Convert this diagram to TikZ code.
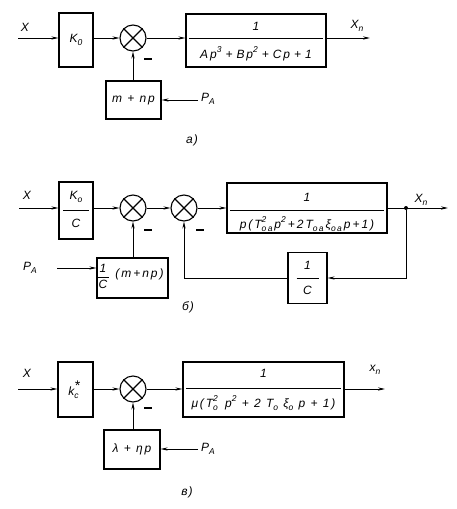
\documentclass[tikz,border=0pt]{standalone}
\usepackage{fontspec}
\setmainfont{Liberation Sans}[LetterSpace=10]
\newfontfamily\widefont[LetterSpace=16]{Liberation Sans}
\usetikzlibrary{arrows.meta,calc}
\newcommand{\smallidx}{\fontsize{8.5}{9}\selectfont}
\newcommand{\lsub}[1]{\raisebox{-0.4ex}{\smallidx #1}}
\newcommand{\lsup}[1]{\raisebox{0.9ex}{\smallidx #1}}
\newcommand{\lsupsub}[2]{\rlap{\raisebox{0.9ex}{\smallidx #1}}\raisebox{-0.4ex}{\smallidx #2}}
\begin{document}
\begin{tikzpicture}[x=1pt,y=-1pt, font=\itshape\fontsize{12}{14}\selectfont,
 blk/.style={draw, line width=1.2pt, inner sep=0},
 sum/.style={draw, circle, minimum size=26pt, inner sep=0, line width=1.1pt},
 arr/.style={-{Stealth[length=7pt,width=3.2pt]}, line width=0.8pt},
 ln/.style={line width=0.8pt},
 lbl/.style={inner sep=0},
 frm/.style={inner sep=0, font=\widefont\itshape\fontsize{12}{14}\selectfont},
 minus/.style={inner sep=0, font=\normalfont},
 dot/.style={circle, fill, inner sep=0, minimum size=4pt}]
\useasboundingbox (0,0) rectangle (456,509);

% ---------------- a) ----------------
\coordinate (xa) at (18,38);
\node[lbl] (xla) at (25,27) {X};
\node[blk, minimum width=34pt, minimum height=54pt] (ka) at (76,40) {K\lsub{0}};
\node[sum] (sa) at (133,38) {};
\draw[line width=1.1pt] (sa.45) -- (sa.225) (sa.135) -- (sa.315);
\node[blk, minimum width=140pt, minimum height=53pt] (ba) at (256,40.5) {};
\node[lbl] (ban) at (256,26) {1};
\draw[ln] ($(ba.west)+(4,-2)$) -- ($(ba.east)+(-4,-2)$);
\node[frm] (bad) at (256,54) {Ap\lsup{3}\,\,+\,\,Bp\lsup{2}\,\,+\,\,Cp\,\,+\,\,1};
\coordinate (ya) at (370,38);
\node[lbl] (yla) at (357,26) {X\lsub{n}};
\draw[arr] (xa) -- (xa -| ka.west);
\draw[arr] (ka.east |- sa) -- (sa.west);
\draw[arr] (sa.east) -- (sa.east -| ba.west);
\draw[arr] (sa.east -| ba.east) -- (ya);
\node[blk, minimum width=55pt, minimum height=38pt, font=\widefont\itshape\fontsize{12}{14}\selectfont] (ma) at (133.5,100) {m + np};
\draw[arr] (ma.north -| sa) -- (sa.south);
\coordinate (pea) at (198,100);
\node[lbl, anchor=west] (pa) at (201,99) {P\lsub{A}};
\draw[arr] (pea) -- (pea -| ma.east);
\node[minus] (mia) at (148,59) {\rule{8pt}{1.2pt}};
\node[lbl] (ca) at (192,140) {а)};

% ---------------- b) ----------------
\coordinate (xb) at (19,208);
\node[lbl] (xlb) at (27,195) {X};
\node[blk, minimum width=34pt, minimum height=57pt] (kb) at (76,210.5) {};
\node[lbl] (kbn) at (76,197) {K\lsub{o}};
\draw[ln] (kb.center) ++(-13,0) -- ++(26,0);
\node[lbl] (kbd) at (76,223) {C};
\node[sum] (sb1) at (133,208) {};
\draw[line width=1.1pt] (sb1.45) -- (sb1.225) (sb1.135) -- (sb1.315);
\node[sum] (sb2) at (184,208) {};
\draw[line width=1.1pt] (sb2.45) -- (sb2.225) (sb2.135) -- (sb2.315);
\node[blk, minimum width=160pt, minimum height=50pt] (bb) at (307,208) {};
\node[lbl] (bbn) at (307,197) {1};
\draw[ln] ($(bb.west)+(4,2)$) -- ($(bb.east)+(-4,2)$);
\node[frm] (bbd) at (307,224) {p(T\lsupsub{2}{oa}\,p\lsup{2}\,+\,2\,T\lsub{oa}\,ξ\lsub{oa}\,p\,+\,1)};
\node[dot] (db) at (406,208) {};
\coordinate (yb) at (448,208);
\node[lbl] (ylb) at (421,200) {X\lsub{n}};
\draw[arr] (xb) -- (xb -| kb.west);
\draw[arr] (kb.east |- sb1) -- (sb1.west);
\draw[arr] (sb1.east) -- (sb2.west);
\draw[arr] (sb2.east) -- (sb2.east -| bb.west);
\draw[arr] (sb2.east -| bb.east) -- (yb);
\node[blk, minimum width=39pt, minimum height=51pt] (cb) at (307.5,278) {};
\node[lbl] (cbn) at (307.5,265) {1};
\draw[ln] (cb.center) ++(-11,0) -- ++(22,0);
\node[lbl] (cbd) at (307.5,290) {C};
\draw[arr] (db) |- (cb.east);
\draw[arr] (cb.west) -| (sb2.south);
\node[blk, minimum width=71pt, minimum height=40pt] (mb) at (132.5,278) {};
\node[lbl] (mbn) at (103,268) {1};
\draw[ln] (98,277) -- (109,277);
\node[lbl] (mbd) at (103,284) {C};
\node[frm] (mbt) at (139.5,274) {(m\,+\,np)};
\draw[arr] (mb.north -| sb1) -- (sb1.south);
\coordinate (peb) at (57,268);
\node[lbl] (pb) at (30,268) {P\lsub{A}};
\draw[arr] (peb) -- (peb -| mb.west);
\node[minus] (mib1) at (148,230) {\rule{8pt}{1.2pt}};
\node[minus] (mib2) at (200,230) {\rule{8pt}{1.2pt}};
\node[lbl] (cbc) at (188,307) {б)};

% ---------------- c) ----------------
\coordinate (xc) at (18,389);
\node[lbl] (xlc) at (27,373) {X};
\node[blk, minimum width=35pt, minimum height=55pt] (kc) at (75.5,389.5) {k\lsupsub{\fontsize{14}{14}\selectfont *}{c}\,\,};
\node[sum] (sc) at (133,389) {};
\draw[line width=1.1pt] (sc.45) -- (sc.225) (sc.135) -- (sc.315);
\node[blk, minimum width=161pt, minimum height=55pt] (bc) at (263.5,389.5) {};
\node[lbl] (bcn) at (263.5,373) {1};
\draw[ln] ($(bc.west)+(4,-1)$) -- ($(bc.east)+(-4,-1)$);
\node[frm] (bcd) at (263.5,403) {μ(T\lsupsub{2}{o}\ \,p\lsup{2}\ +\ 2\ T\lsub{o}\ ξ\lsub{o}\ p\ +\ 1)};
\coordinate (yc) at (385,389);
\node[lbl] (ylc) at (375,370) {x\lsub{n}};
\draw[arr] (xc) -- (xc -| kc.west);
\draw[arr] (kc.east |- sc) -- (sc.west);
\draw[arr] (sc.east) -- (sc.east -| bc.west);
\draw[arr] (sc.east -| bc.east) -- (yc);
\node[blk, minimum width=56pt, minimum height=39pt, font=\widefont\itshape\fontsize{12}{14}\selectfont] (lc) at (132,449.5) {λ + ηp};
\draw[arr] (lc.north -| sc) -- (sc.south);
\coordinate (pec) at (198,449);
\node[lbl, anchor=west] (pc) at (201,449) {P\lsub{A}};
\draw[arr] (pec) -- (pec -| lc.east);
\node[minus] (mic) at (148,408) {\rule{8pt}{1.2pt}};
\node[lbl] (ccc) at (187,492) {в)};
\end{tikzpicture}
\end{document}
